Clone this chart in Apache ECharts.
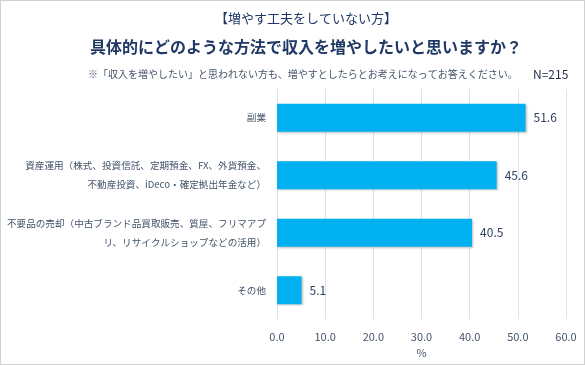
<!DOCTYPE html>
<html><head><meta charset="utf-8">
<script src="https://cdn.jsdelivr.net/npm/echarts@6/dist/echarts.min.js"></script>
<style>html,body{margin:0;padding:0;background:#fff}#c{width:585px;height:365px;box-sizing:border-box;border:1px solid #d0d0d0}</style>
</head><body><div id="c"></div>
<script>
const categories = ['副業', '資産運用（株式、投資信託、定期預金、FX、外貨預金、\n不動産投資、iDeco・確定拠出年金など）', '不要品の売却（中古ブランド品買取販売、質屋、フリマアプ\nリ、リサイクルショップなどの活用）', 'その他'];
const values = [51.6, 45.6, 40.5, 5.1];
const xTicks = [0, 10, 20, 30, 40, 50, 60];

const chart = echarts.init(document.getElementById('c'));
const ff = '"Noto Sans CJK JP", sans-serif';
chart.setOption({
  animation: false,
  textStyle: { fontFamily: ff },
  title: [
    { text: '【増やす工夫をしていない方】', left: 300, top: 6, textAlign: 'center',
      textStyle: { fontSize: 13, fontWeight: 'normal', color: '#1f3864', fontFamily: ff } },
    { text: '具体的にどのような方法で収入を増やしたいと思いますか？', left: 300, top: 33, textAlign: 'center',
      textStyle: { fontSize: 16, fontWeight: 'bold', color: '#1f3864', fontFamily: ff } },
    { text: '※「収入を増やしたい」と思われない方も、増やすとしたらとお考えになってお答えください。', left: 82, top: 63,
      textStyle: { fontSize: 10, fontWeight: 'normal', color: '#44546a', fontFamily: ff } },
    { text: 'N=215', left: 527, top: 62,
      textStyle: { fontSize: 12, fontWeight: 'normal', color: '#1f2a44', fontFamily: ff } }
  ],
  grid: { left: 276, right: 18, top: 88, bottom: 45, containLabel: false, outerBoundsMode: 'none' },
  xAxis: {
    type: 'value', min: xTicks[0], max: xTicks[xTicks.length - 1], interval: 10,
    name: '%', nameLocation: 'middle', nameGap: 28,
    nameTextStyle: { color: '#44546a', fontSize: 11 },
    axisLabel: { formatter: v => v.toFixed(1), color: '#44546a', fontSize: 11, margin: 12 },
    axisLine: { show: false }, axisTick: { show: false },
    splitLine: { lineStyle: { color: '#d9e2f0', width: 1 } }
  },
  yAxis: {
    type: 'category', inverse: true, data: categories,
    axisLine: { show: false }, axisTick: { show: false },
    axisLabel: { color: '#44546a', fontSize: 9.6, margin: 11, align: 'right', lineHeight: 19 }
  },
  series: [{
    type: 'bar', data: values, barWidth: 28,
    itemStyle: { color: '#00b0f0', shadowColor: 'rgba(0,0,0,0.25)', shadowBlur: 2, shadowOffsetX: 1, shadowOffsetY: 1 },
    label: { show: true, position: 'right', distance: 8, formatter: p => p.value.toFixed(1), color: '#2f3f5f', fontSize: 12 }
  }]
});
</script></body></html>
